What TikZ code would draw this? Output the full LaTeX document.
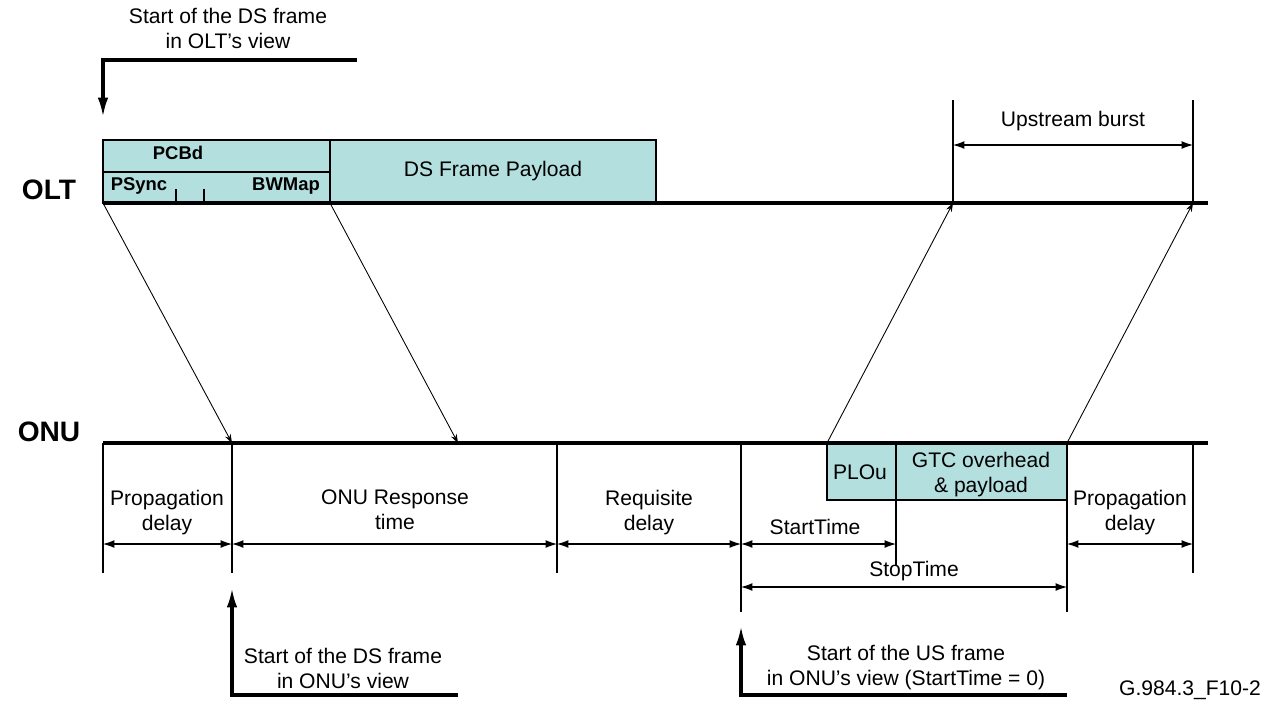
\documentclass[tikz,border=0pt]{standalone}
\usepackage{fontspec}
\setmainfont{Liberation Sans}
\usetikzlibrary{arrows.meta,positioning,calc}
\definecolor{frm}{HTML}{B4DFDF}
\tikzset{
  fbox/.style={draw,fill=frm,line width=0.6pt},
  lbl/.style={font=\fontsize{12}{14.2}\selectfont,align=center,inner sep=1pt},
  hdr/.style={font=\fontsize{10.5}{12}\selectfont\bfseries,inner sep=1pt},
  axis/.style={line width=2.3pt},
  vl/.style={line width=0.6pt},
  dim/.style={{Latex[length=6.5pt,width=4.5pt]}-{Latex[length=6.5pt,width=4.5pt]},line width=0.6pt},
  sig/.style={-{Stealth[length=5pt,width=3.5pt]},line width=0.5pt},
  startarrow/.style={-{Latex[length=11pt,width=6pt]},line width=1.8pt},
}
\begin{document}
\begin{tikzpicture}[x=0.02cm,y=-0.02cm]
\useasboundingbox (0,0) rectangle (1272,708);

% time points on the two lines
\coordinate (olt0) at (103,203);  \coordinate (oltE) at (1208,203);
\coordinate (onu0) at (103,443);  \coordinate (onuE) at (1208,443);
\coordinate (dsB) at (330,203);   \coordinate (usA) at (953,203);  \coordinate (usB) at (1193,203);
\coordinate (rxA) at (232,443);   \coordinate (rxB) at (458,443);
\coordinate (txA) at (827,443);   \coordinate (txB) at (1067,443);

% downstream frame
\draw[fbox] (103,140) rectangle (330,203);
\draw[vl] (103,172) -- (330,172);
\draw[fbox] (330,140) rectangle (656,203);
\draw[vl] (176,189) -- (176,203) (204,189) -- (204,203);
\node[hdr] (pcbd) at (178,153) {PCBd};
\node[hdr] (psync) at (139,186) {PSync};
\node[hdr] (bwmap) at (286,186) {BWMap};
\node[lbl] (payload) at (493,171) {DS Frame Payload};

% upstream burst
\draw[fbox] (827,443) rectangle (896,500);
\draw[fbox] (896,443) rectangle (1067,500);
\node[lbl] (plou) at (860,472) {PLOu};
\node[lbl,anchor=north] (gtc) at (981,450) {GTC overhead\\\& payload};

% OLT / ONU lines
\draw[axis] (olt0) -- (oltE);
\draw[axis] (onu0) -- (onuE);
\node[font=\fontsize{16}{18}\selectfont\bfseries] (olt) at (49,190) {OLT};
\node[font=\fontsize{16}{18}\selectfont\bfseries] (onu) at (49,432) {ONU};

% propagation
\draw[sig] (olt0) -- (rxA);
\draw[sig] (dsB) -- (rxB);
\draw[sig] (txA) -- (usA);
\draw[sig] (txB) -- (usB);

% upstream burst span
\draw[vl] (953,100) -- (usA);
\draw[vl] (1193,100) -- (usB);
\draw[dim] (953,145) -- (1193,145);
\node[lbl] (burst) at (1073,121) {Upstream burst};

% marks below ONU
\draw[vl] (onu0) -- (103,573);
\draw[vl] (rxA) -- (232,573);
\draw[vl] (557,443) -- (557,573);
\draw[vl] (741,443) -- (741,612);
\draw[vl] (896,500) -- (896,566);
\draw[vl] (txB) -- (1067,612);
\draw[vl] (1193,443) -- (1193,573);

\draw[dim] (103,544) -- (232,544);
\draw[dim] (232,544) -- (557,544);
\draw[dim] (557,544) -- (741,544);
\draw[dim] (741,544) -- (896,544);
\draw[dim] (1067,544) -- (1193,544);
\draw[dim] (741,587) -- (1067,587);

\node[lbl,anchor=north] (prop1) at (167,488) {Propagation\\delay};
\node[lbl,anchor=north] (resp) at (395,488) {ONU Response\\time};
\node[lbl,anchor=north] (req) at (649,488) {Requisite\\delay};
\node[lbl] (start) at (815,527) {StartTime};
\node[lbl,anchor=north] (prop2) at (1130,488) {Propagation\\delay};
\node[lbl] (stop) at (914,571) {StopTime};

% frame start markers
\draw[startarrow] (357,60) -| (103,117);
\node[lbl] (olts) at (228,28) {Start of the DS frame\\in OLT's view};
\draw[startarrow] (458,695) -| (232,588);
\node[lbl] (onus) at (343,668) {Start of the DS frame\\in ONU's view};
\draw[startarrow] (1067,695) -| (741,626);
\node[lbl] (uss) at (906,668) {Start of the US frame\\in ONU's view (StartTime = 0)};

\node[lbl] (fig) at (1190,690) {G.984.3\_F10-2};
\end{tikzpicture}
\end{document}
